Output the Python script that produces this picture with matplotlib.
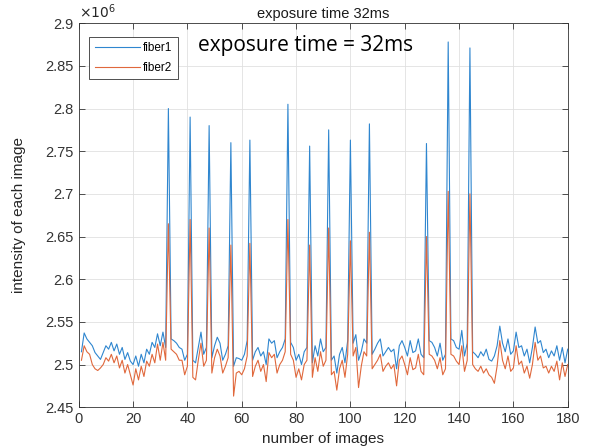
import numpy as np
import matplotlib
matplotlib.use('Agg')
import matplotlib.pyplot as plt
from matplotlib.ticker import FuncFormatter

# intensity of each image, in units of 1e6
fiber1 = [
    2.515, 2.537, 2.530, 2.526, 2.522, 2.514, 2.510, 2.506, 2.514, 2.522,
    2.518, 2.526, 2.516, 2.524, 2.512, 2.520, 2.506, 2.514, 2.504, 2.500,
    2.510, 2.498, 2.512, 2.502, 2.518, 2.512, 2.526, 2.520, 2.536, 2.522,
    2.538, 2.520, 2.800, 2.530, 2.528, 2.525, 2.520, 2.518, 2.505, 2.512,
    2.790, 2.505, 2.502, 2.520, 2.538, 2.512, 2.520, 2.780, 2.508, 2.522,
    2.532, 2.525, 2.505, 2.512, 2.522, 2.760, 2.498, 2.508, 2.507, 2.505,
    2.512, 2.528, 2.763, 2.505, 2.515, 2.520, 2.510, 2.515, 2.500, 2.530,
    2.525, 2.528, 2.508, 2.515, 2.520, 2.530, 2.805, 2.526, 2.520, 2.505,
    2.512, 2.500, 2.515, 2.520, 2.756, 2.502, 2.522, 2.510, 2.530, 2.515,
    2.520, 2.775, 2.505, 2.510, 2.490, 2.512, 2.520, 2.502, 2.528, 2.763,
    2.525, 2.535, 2.505, 2.515, 2.530, 2.525, 2.782, 2.512, 2.518, 2.525,
    2.530, 2.510, 2.515, 2.520, 2.515, 2.518, 2.495, 2.522, 2.528, 2.520,
    2.510, 2.528, 2.514, 2.516, 2.530, 2.512, 2.508, 2.759, 2.528, 2.526,
    2.520, 2.510, 2.525, 2.505, 2.512, 2.878, 2.530, 2.528, 2.520, 2.518,
    2.540, 2.510, 2.525, 2.871, 2.515, 2.512, 2.508, 2.515, 2.510, 2.518,
    2.506, 2.504, 2.510, 2.522, 2.545, 2.525, 2.515, 2.530, 2.512, 2.516,
    2.538, 2.520, 2.522, 2.510, 2.518, 2.502, 2.520, 2.544, 2.525, 2.528,
    2.514, 2.518, 2.508, 2.516, 2.510, 2.522, 2.505, 2.520, 2.502, 2.518,
]
fiber2 = [
    2.505, 2.522, 2.515, 2.512, 2.500, 2.495, 2.493, 2.496, 2.500, 2.508,
    2.504, 2.512, 2.502, 2.510, 2.496, 2.505, 2.490, 2.500, 2.488, 2.476,
    2.495, 2.482, 2.498, 2.486, 2.504, 2.498, 2.512, 2.502, 2.524, 2.505,
    2.526, 2.505, 2.665, 2.518, 2.515, 2.512, 2.505, 2.505, 2.488, 2.498,
    2.670, 2.485, 2.482, 2.505, 2.525, 2.498, 2.505, 2.660, 2.490, 2.508,
    2.518, 2.510, 2.490, 2.498, 2.508, 2.640, 2.463, 2.490, 2.492, 2.488,
    2.495, 2.510, 2.642, 2.486, 2.498, 2.505, 2.492, 2.500, 2.480, 2.514,
    2.508, 2.512, 2.490, 2.500, 2.505, 2.515, 2.670, 2.512, 2.505, 2.485,
    2.495, 2.482, 2.500, 2.505, 2.640, 2.485, 2.508, 2.492, 2.515, 2.498,
    2.505, 2.660, 2.488, 2.492, 2.470, 2.495, 2.505, 2.485, 2.512, 2.645,
    2.510, 2.520, 2.473, 2.498, 2.515, 2.510, 2.655, 2.495, 2.500, 2.505,
    2.512, 2.492, 2.498, 2.502, 2.495, 2.500, 2.475, 2.505, 2.510, 2.500,
    2.488, 2.508, 2.494, 2.496, 2.512, 2.492, 2.488, 2.650, 2.512, 2.510,
    2.505, 2.495, 2.508, 2.488, 2.495, 2.703, 2.512, 2.510, 2.504, 2.500,
    2.522, 2.492, 2.505, 2.700, 2.500, 2.495, 2.492, 2.498, 2.490, 2.495,
    2.488, 2.485, 2.478, 2.498, 2.528, 2.505, 2.495, 2.510, 2.492, 2.496,
    2.522, 2.500, 2.504, 2.490, 2.498, 2.484, 2.500, 2.526, 2.505, 2.510,
    2.496, 2.498, 2.490, 2.498, 2.492, 2.504, 2.482, 2.502, 2.486, 2.500,
]
images = np.arange(1, len(fiber1) + 1)

plt.rcParams['font.family'] = ['Liberation Sans', 'DejaVu Sans']

fig = plt.figure(figsize=(5.92, 4.46), dpi=100)
ax = fig.add_axes([0.133, 0.087, 0.826, 0.861])

ax.plot(images, fiber1, color='#2f86cf', lw=0.8, label='fiber1')
ax.plot(images, fiber2, color='#e0683c', lw=0.8, label='fiber2')

ax.set_xlim(0, 180)
ax.set_ylim(2.45, 2.9)
ax.set_xticks(np.arange(0, 181, 20))
ax.set_yticks(np.arange(2.45, 2.901, 0.05))
ax.yaxis.set_major_formatter(FuncFormatter(lambda v, p: '%g' % round(v, 2)))
ax.grid(True, color='#e0e0e0', lw=0.6)
ax.set_axisbelow(True)
ax.tick_params(direction='in', top=True, right=True, labelsize=10.5,
               colors='#333333', length=4, width=0.6)
for s in ax.spines.values():
    s.set_color('#333333')
    s.set_linewidth(0.6)

ax.set_xlabel('number of images', fontsize=11, color='#262626')
ax.set_ylabel('intensity of each image', fontsize=11, color='#262626',
              labelpad=14)
ax.set_title('exposure time 32ms', fontsize=10.5, color='#1a1a1a', pad=4)
ax.text(0.0, 1.005, r'$\times10^{6}$', transform=ax.transAxes, fontsize=10,
        color='#262626', va='bottom', ha='left')

leg = ax.legend(loc='upper left', fontsize=8.5, fancybox=False, framealpha=1,
                edgecolor='#333333', borderpad=0.45, handlelength=3.8,
                handletextpad=0.3, borderaxespad=0, labelspacing=0.65,
                bbox_to_anchor=(0.022, 0.964))
leg.get_frame().set_linewidth(0.6)

ax.text(0.243, 0.941, 'exposure time = 32ms', transform=ax.transAxes,
        fontsize=15, family='Open Sans', va='center', ha='left', color='black')

fig.savefig('out.png', dpi=100)
